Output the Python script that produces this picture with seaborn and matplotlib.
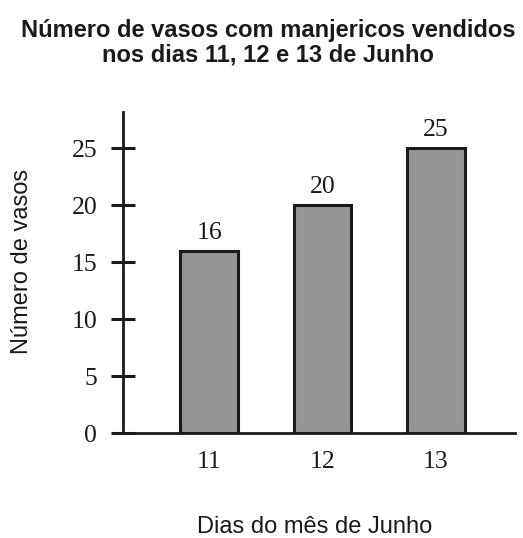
import matplotlib
matplotlib.use("Agg")
import matplotlib.pyplot as plt
import seaborn as sns
import pandas as pd

# data
dias = ["11", "12", "13"]
vasos = [16, 20, 25]
y_ticks = [0, 5, 10, 15, 20, 25]

title = "Número de vasos com manjericos vendidos\nnos dias 11, 12 e 13 de Junho"
xlabel = "Dias do mês de Junho"
ylabel = "Número de vasos"

sns.set_theme(style="white")
plt.rcParams["font.family"] = ["Liberation Sans", "DejaVu Sans"]

W, H = 523, 538
fig = plt.figure(figsize=(W / 100, H / 100), dpi=100)
ax = fig.add_axes([123 / W, 1 - 433 / H, (515 - 123) / W, (433 - 112) / H])

df = pd.DataFrame({"dia": dias, "vasos": vasos})
sns.barplot(data=df, x="dia", y="vasos", color="#959595", saturation=1,
            edgecolor="#1a1a1a", linewidth=2.2, width=0.51, ax=ax)

ax.set_xlim(-0.76, 2.70)
ax.set_ylim(0, 28.2)
ax.set_yticks(y_ticks)

for s in ["top", "right"]:
    ax.spines[s].set_visible(False)
for s in ["left", "bottom"]:
    ax.spines[s].set_linewidth(2)
    ax.spines[s].set_color("#1a1a1a")

serif = ["Liberation Serif", "DejaVu Serif"]
ax.tick_params(axis="y", direction="inout", length=17, width=2.2,
               color="#1a1a1a", pad=10, left=True)
ax.tick_params(axis="x", length=0, pad=13)
for lab in ax.get_xticklabels() + ax.get_yticklabels():
    lab.set_fontfamily(serif)
    lab.set_fontsize(18.5)
    lab.set_color("#1a1a1a")

ax.bar_label(ax.containers[0], labels=[str(v) for v in vasos], padding=5,
             fontsize=18.5, family=serif, color="#1a1a1a")

ax.set_xlabel("")
ax.set_ylabel("")
fig.text(315 / W, 1 - 527 / H, xlabel, ha="center", va="center",
         fontsize=17, color="#1a1a1a")
fig.text(22 / W, 1 - 261.5 / H, ylabel, ha="center", va="center",
         rotation=90, fontsize=17, color="#1a1a1a")
fig.text(268 / W, 1 - 19 / H, title, ha="center", va="top",
         fontsize=17, fontweight="bold", color="#1a1a1a", linespacing=1.1)

fig.savefig("out.png", dpi=100)
